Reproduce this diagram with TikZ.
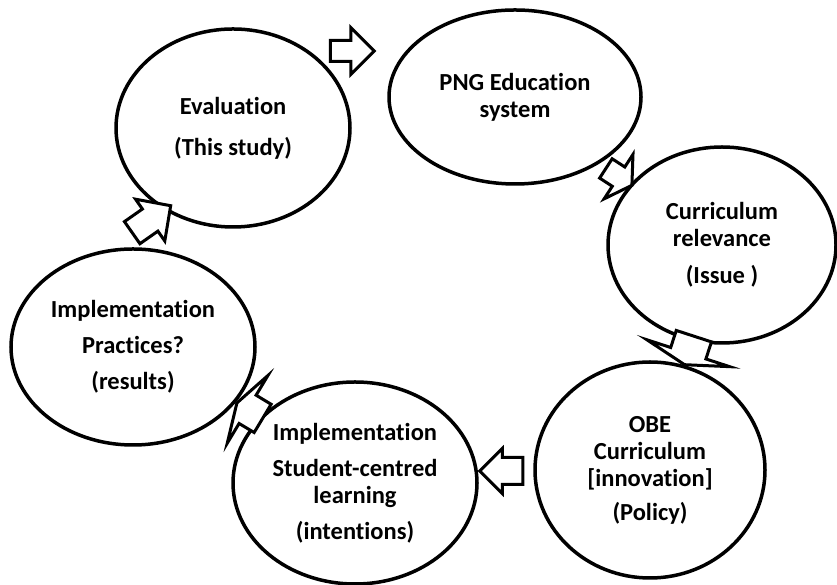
\documentclass[tikz,border=0pt]{standalone}
\usepackage{fontspec}
\setmainfont{Carlito}[Ligatures=NoCommon]
\usetikzlibrary{shapes.geometric,shapes.arrows}
\tikzset{
  stage/.style={ellipse, draw=black, line width=3.5pt, inner sep=0pt, align=center,
    font=\bfseries\fontsize{24.5}{27}\selectfont},
  blockarrow/.style={single arrow, draw=black, fill=white, line width=3pt, inner xsep=0pt}
}

\begin{document}
\begin{tikzpicture}[x=1pt,y=1pt]
\useasboundingbox (0,0) rectangle (837,585);

\node[stage, minimum width=234, minimum height=198] (eval) at (233,457) {Evaluation\\[14pt](This study)};
\node[stage, minimum width=252, minimum height=174] (png) at (515,488) {PNG Education\\system};
\node[stage, minimum width=228, minimum height=196] (rel) at (722,340) {Curriculum\\relevance\\[10pt](Issue )};
\node[stage, minimum width=230, minimum height=216] (obe) at (650,115) {OBE\\Curriculum\\{[innovation]}\\[7pt](Policy)};
\node[stage, minimum width=244, minimum height=202] (stud) at (355,102) {Implementation\\[9pt]Student-centred\\learning\\[9pt](intentions)};
\node[stage, minimum width=244, minimum height=196] (prac) at (133,238) {Implementation\\[9pt]Practices?\\[9pt](results)};

% block arrows round the cycle
\node[blockarrow, minimum height=44, inner ysep=9, single arrow head extend=13, single arrow tip angle=90] (a1) at (347,534) {};
\node[blockarrow, rotate=-33, minimum height=31, inner ysep=10, single arrow head extend=15, single arrow tip angle=118] (a2) at (616,410) {};
\node[blockarrow, rotate=-108, minimum height=30, inner ysep=17, single arrow head extend=25, single arrow tip angle=149] (a3) at (690,237) {};
\node[blockarrow, rotate=180, minimum height=43, inner ysep=12, single arrow head extend=9, single arrow tip angle=90] (a4) at (508,114) {};
\node[blockarrow, rotate=149, minimum height=30, inner ysep=15, single arrow head extend=23, single arrow tip angle=145] (a5) at (252,173) {};
\node[blockarrow, rotate=35, minimum height=47, inner ysep=12, single arrow head extend=12, single arrow tip angle=91] (a6) at (146,362) {};
\end{tikzpicture}
\end{document}
